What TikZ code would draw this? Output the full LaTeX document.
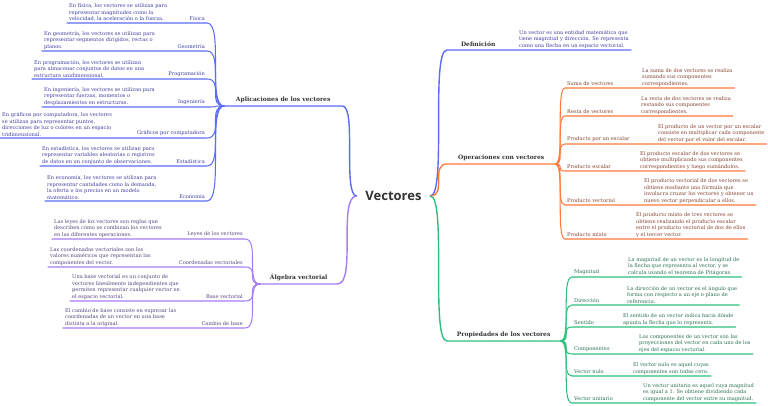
\documentclass[tikz,border=0pt]{standalone}
\usepackage{fontspec}
\setmainfont{DejaVu Serif}
\newfontfamily\rootfont{Open Sans}
\usepackage{tikz}
\usetikzlibrary{calc}
\definecolor{brBlue}{HTML}{5B6DF6}
\definecolor{txBlue}{HTML}{3D3DA0}
\definecolor{brPurple}{HTML}{A47CF3}
\definecolor{txPurple}{HTML}{54427C}
\definecolor{brOrange}{HTML}{FF7A3B}
\definecolor{txOrange}{HTML}{82402E}
\definecolor{brGreen}{HTML}{2EC07B}
\definecolor{txGreen}{HTML}{26704C}
\definecolor{txTitle}{HTML}{333333}
\tikzset{
  desc/.style={font=\fontsize{5.1}{6.5}\selectfont, align=left, inner xsep=2pt, inner ysep=1.5pt},
  leaf/.style={font=\fontsize{5.1}{6.5}\selectfont, inner xsep=2pt, inner ysep=2.2pt},
  branch/.style={font=\fontsize{6}{8}\selectfont\bfseries, text=txTitle, inner xsep=0pt, inner ysep=3pt,
    minimum width=#1, anchor=south west},
  mainln/.style={line width=1.4pt, line cap=round},
  subln/.style={line width=1.05pt, line cap=round},
}

\begin{document}
\begin{tikzpicture}[x=1pt, y=-1pt,
  conn/.style={to path={.. controls (\tikztostart -| \tikztotarget) and (\tikztotarget -| \tikztostart) .. (\tikztotarget)}}]
\useasboundingbox (0,0) rectangle (768,406);
\node[font=\rootfont\fontsize{13}{15}\selectfont\bfseries, text=txTitle, minimum width=73pt, inner sep=0pt] (root) at (393.5,196) {Vectores};

\node[branch=118pt] (apl) at (224,106) {Aplicaciones de los vectores};
\node[branch=77pt] (alg) at (260,284) {Álgebra vectorial};
\draw[mainln, brBlue] (root.west) to[conn] (apl.south east) -- (apl.south west);
\draw[mainln, brPurple] (root.west) to[conn] (alg.south east) -- (alg.south west);

\foreach \nm/\y/\xd/\lab/\txt in {
  fis/23/67/{Física}/{En física, los vectores se utilizan para\\representar magnitudes como la\\velocidad, la aceleración o la fuerza.},
  geo/51/42/{Geometría}/{En geometría, los vectores se utilizan para\\representar segmentos dirigidos, rectas o\\planos.},
  prg/79/32/{Programación}/{En programación, los vectores se utilizan\\para almacenar conjuntos de datos en una\\estructura unidimensional.},
  ing/107/42/{Ingeniería}/{En ingeniería, los vectores se utilizan para\\representar fuerzas, momentos o\\desplazamientos en estructuras.},
  gra/138/0/{Gráficos por computadora}/{En gráficos por computadora, los vectores\\se utilizan para representar puntos,\\direcciones de luz o colores en un espacio\\tridimensional.},
  est/166/40/{Estadística}/{En estadística, los vectores se utilizan para\\representar variables aleatorias o registros\\de datos en un conjunto de observaciones.},
  eco/201/45/{Economía}/{En economía, los vectores se utilizan para\\representar cantidades como la demanda,\\la oferta o los precios en un modelo\\matemático.}}{
  \node[leaf, text=txBlue, anchor=south east] (\nm) at (207,\y) {\lab};
  \node[desc, text=txBlue, anchor=south west] (d\nm) at (\xd,\y) {\txt};
  \draw[subln, brBlue] (apl.south west) to[conn] (\nm.south east) -- (d\nm.south west);
}

\foreach \nm/\y/\xd/\lab/\txt in {
  ley/239/52/{Leyes de los vectores}/{Las leyes de los vectores son reglas que\\describen cómo se combinan los vectores\\en las diferentes operaciones.},
  coo/267/48/{Coordenadas vectoriales}/{Las coordenadas vectoriales son los\\valores numéricos que representan las\\componentes del vector.},
  bas/301/70/{Base vectorial}/{Una base vectorial es un conjunto de\\vectores linealmente independientes que\\permiten representar cualquier vector en\\el espacio vectorial.},
  cam/328/63/{Cambio de base}/{El cambio de base consiste en expresar las\\coordenadas de un vector en una base\\distinta a la original.}}{
  \node[leaf, text=txPurple, anchor=south east] (\nm) at (245,\y) {\lab};
  \node[desc, text=txPurple, anchor=south west] (d\nm) at (\xd,\y) {\txt};
  \draw[subln, brPurple] (alg.south west) to[conn] (\nm.south east) -- (d\nm.south west);
}

\node[branch=62pt] (def) at (447,50) {Definición};
\node[desc, text=txBlue, anchor=south west] (ddef) at (517,50) {Un vector es una entidad matemática que\\tiene magnitud y dirección. Se representa\\como una flecha en un espacio vectorial.};
\draw[mainln, brBlue] (root.east) to[conn] (def.south west) -- (ddef.south east);

\node[branch=108pt] (ope) at (447,164) {Operaciones con vectores};
\node[branch=113pt] (prp) at (447,341) {Propiedades de los vectores};
\draw[mainln, brOrange] (root.east) to[conn] (ope.south west) -- (ope.south east);
\draw[mainln, brGreen] (root.east) to[conn] (prp.south west) -- (prp.south east);

\foreach \nm/\y/\xd/\lab/\txt in {
  sum/88/640/{Suma de vectores}/{La suma de dos vectores se realiza\\sumando sus componentes\\correspondientes.},
  res/116/639/{Resta de vectores}/{La resta de dos vectores se realiza\\restando sus componentes\\correspondientes.},
  pxe/144/656/{Producto por un escalar}/{El producto de un vector por un escalar\\consiste en multiplicar cada componente\\del vector por el valor del escalar.},
  pes/171/638/{Producto escalar}/{El producto escalar de dos vectores se\\obtiene multiplicando sus componentes\\correspondientes y luego sumándolos.},
  pve/205/642/{Producto vectorial}/{El producto vectorial de dos vectores se\\obtiene mediante una fórmula que\\involucra cruzar los vectores y obtener un\\nuevo vector perpendicular a ellos.},
  pmi/239/634/{Producto mixto}/{El producto mixto de tres vectores se\\obtiene realizando el producto escalar\\entre el producto vectorial de dos de ellos\\y el tercer vector.}}{
  \node[leaf, text=txOrange, anchor=south west] (\nm) at (565,\y) {\lab};
  \node[desc, text=txOrange, anchor=south west] (d\nm) at (\xd,\y) {\txt};
  \draw[subln, brOrange] (ope.south east) to[conn] (\nm.south west) -- (d\nm.south east);
}

\foreach \nm/\y/\xd/\lab/\txt in {
  mag/277/626/{Magnitud}/{La magnitud de un vector es la longitud de\\la flecha que representa al vector, y se\\calcula usando el teorema de Pitágoras.},
  dir/305/625/{Dirección}/{La dirección de un vector es el ángulo que\\forma con respecto a un eje o plano de\\referencia.},
  sen/327/621/{Sentido}/{El sentido de un vector indica hacia dónde\\apunta la flecha que lo representa.},
  com/354/637/{Componentes}/{Los componentes de un vector son las\\proyecciones del vector en cada uno de los\\ejes del espacio vectorial.},
  nul/376/631/{Vector nulo}/{El vector nulo es aquel cuyas\\componentes son todas cero.},
  uni/403/641/{Vector unitario}/{Un vector unitario es aquel cuya magnitud\\es igual a 1. Se obtiene dividiendo cada\\componente del vector entre su magnitud.}}{
  \node[leaf, text=txGreen, anchor=south west] (\nm) at (572,\y) {\lab};
  \node[desc, text=txGreen, anchor=south west] (d\nm) at (\xd,\y) {\txt};
  \draw[subln, brGreen] (prp.south east) to[conn] (\nm.south west) -- (d\nm.south east);
}
\end{tikzpicture}
\end{document}
